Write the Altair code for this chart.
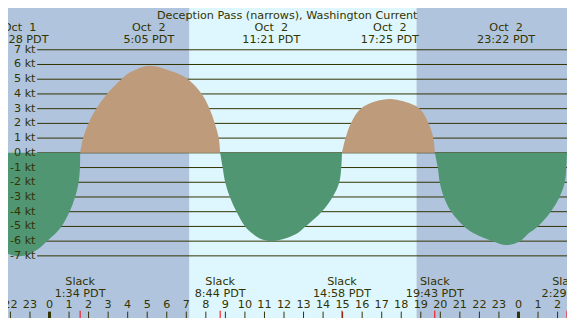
import altair as alt
import pandas as pd

W, H = 559, 310
SX, SY = W / 575, H / 326

HMIN, HMAX = -2.1244, 26.4826
KT_BOT, KT_TOP = -11.221, 9.838

FONT = "DejaVu Sans"
FS = 11.2
INK = "#333300"
NIGHT = "#B0C4DE"
DAY = "#DEF7FF"
FLOOD = "#BE9B7B"
EBB = "#509673"

# day / night background periods (hours from Oct 2 00:00 PDT)
bg_start = [HMIN, 7.164, 18.771]
bg_end = [7.164, 18.771, HMAX]
bg_kind = ["night", "day", "night"]

# current speed (hours, knots)
arc1_h = [-2.1244, -1.85, -1.533, -1.1, -0.6, -0.134, 0.25, 0.612, 1.025, 1.308, 1.493, 1.557, 1.567]
arc1_v = [-6.85, -6.97, -7.02, -6.9, -6.55, -6.0, -5.55, -5.0, -4.0, -3.0, -2.0, -1.0, 0.0]
arc2_h = [1.567, 1.72, 1.99, 2.39, 2.94, 3.68, 4.18, 5.083, 6.33, 7.08, 7.79, 8.19, 8.46, 8.66, 8.733]
arc2_v = [0.0, 1.0, 2.0, 3.0, 4.0, 5.0, 5.5, 5.92, 5.5, 5.0, 4.0, 3.0, 2.0, 1.0, 0.0]
arc3_h = [8.733, 8.86, 8.99, 9.23, 9.57, 10.01, 10.4, 10.81, 11.35, 11.97, 12.64, 13.1, 13.93, 14.49, 14.83, 14.93, 14.967]
arc3_v = [0.0, -1.0, -2.0, -3.0, -4.0, -5.0, -5.5, -5.85, -5.99, -5.85, -5.5, -5.0, -4.0, -3.0, -2.0, -1.0, 0.0]
arc4_h = [14.967, 15.15, 15.42, 15.92, 16.7, 17.417, 18.11, 18.94, 19.4, 19.64, 19.717]
arc4_v = [0.0, 1.0, 2.0, 3.0, 3.5, 3.66, 3.5, 3.0, 2.0, 1.0, 0.0]
arc5_h = [19.717, 19.87, 19.97, 20.18, 20.56, 21.22, 21.76, 22.67, 23.367, 24.08, 24.49, 24.99, 25.65, 26.1, 26.37, 26.45, 26.4826]
arc5_v = [0.0, -1.0, -2.0, -3.0, -4.0, -5.0, -5.5, -6.0, -6.27, -6.0, -5.5, -5.0, -4.0, -3.0, -2.0, -1.0, 0.0]
arc_kind = ["ebb", "flood", "ebb", "flood", "ebb"]

# maximum current events (top labels)
max_h = [-1.533, 5.083, 11.35, 17.417, 23.367]
max_date = ["Oct  1", "Oct  2", "Oct  2", "Oct  2", "Oct  2"]
max_time = ["22:28 PDT", "5:05 PDT", "11:21 PDT", "17:25 PDT", "23:22 PDT"]

# slack events (bottom labels)
slack_h = [1.567, 8.733, 14.967, 19.717, 26.4826]
slack_time = ["1:34 PDT", "8:44 PDT", "14:58 PDT", "19:43 PDT", "2:29 PDT"]

# hour ticks
hours = list(range(-2, 27))
hour_labels = [str(h % 24) for h in hours]

# speed grid
kt_levels = list(range(-7, 8))
kt_labels = [f"{k} kt" for k in kt_levels]

title_text = ["Deception Pass (narrows), Washington Current"]

xs = alt.Scale(domain=[HMIN, HMAX], nice=False, zero=False)
ys = alt.Scale(domain=[KT_BOT, KT_TOP], nice=False, zero=False)


def X(field, **kw):
    return alt.X(f"{field}:Q", scale=xs, axis=None, **kw)


def Y(field):
    return alt.Y(f"{field}:Q", scale=ys, axis=None)


nbsp = lambda s: s.replace("  ", "\u00a0\u00a0")

bg_df = pd.DataFrame({"h": bg_start, "h2": bg_end, "kind": bg_kind})
rows = []
for i, (hh, vv) in enumerate([(arc1_h, arc1_v), (arc2_h, arc2_v), (arc3_h, arc3_v),
                                (arc4_h, arc4_v), (arc5_h, arc5_v)]):
    for a, b in zip(hh, vv):
        rows.append({"h": a, "kt": b, "arc": i, "kind": arc_kind[i]})
cur_df = pd.DataFrame(rows)
max_df = pd.DataFrame({"h": max_h, "date": [nbsp(d) for d in max_date], "time": max_time})
slack_df = pd.DataFrame({"h": slack_h, "time": slack_time, "word": ["Slack"] * len(slack_h)})
hour_df = pd.DataFrame({"h": hours, "label": hour_labels})
kt_df = pd.DataFrame({"kt": kt_levels, "label": kt_labels})
title_df = pd.DataFrame({"t": title_text})

layers = []
for kind, col in [("night", NIGHT), ("day", DAY)]:
    layers.append(
        alt.Chart(bg_df).transform_filter(alt.datum.kind == kind)
        .mark_rect(color=col, strokeWidth=0)
        .encode(x=X("h"), x2="h2:Q", y=alt.value(0), y2=alt.value(H))
    )

layers.append(
    alt.Chart(kt_df).mark_rule(color=INK, strokeWidth=1)
    .encode(y=Y("kt"), x=alt.value(30 * SX), x2=alt.value(W))
)
for kind, col in [("flood", FLOOD), ("ebb", EBB)]:
    layers.append(
        alt.Chart(cur_df).transform_filter(alt.datum.kind == kind)
        .mark_area(color=col, interpolate="catmull-rom", opacity=1)
        .encode(x=X("h"), y=Y("kt"), y2=alt.datum(0), detail="arc:N")
    )
layers.append(
    alt.Chart(kt_df).mark_text(font=FONT, fontSize=FS, color=INK, align="right", baseline="middle")
    .encode(y=Y("kt"), x=alt.value(28.3 * SX), text="label:N")
)

txt = dict(font=FONT, fontSize=FS, color=INK, align="center", baseline="alphabetic")
layers.append(
    alt.Chart(title_df).mark_text(**txt)
    .encode(x=alt.value(287.2 * SX), y=alt.value(12 * SY), text="t:N")
)
layers.append(
    alt.Chart(max_df).mark_text(**txt).encode(x=X("h"), y=alt.value(24 * SY), text="date:N")
)
layers.append(
    alt.Chart(max_df).mark_text(**txt).encode(x=X("h"), y=alt.value(36.5 * SY), text="time:N")
)
layers.append(
    alt.Chart(slack_df).mark_text(**txt).encode(x=X("h"), y=alt.value(291 * SY), text="word:N")
)
layers.append(
    alt.Chart(slack_df).mark_text(**txt).encode(x=X("h"), y=alt.value(304 * SY), text="time:N")
)
layers.append(
    alt.Chart(hour_df).mark_text(**txt).encode(x=X("h"), y=alt.value(316 * SY), text="label:N")
)
layers.append(
    alt.Chart(hour_df).mark_rule(color=INK)
    .encode(x=X("h"), y=alt.value(319.3 * SY), y2=alt.value(H),
            strokeWidth=alt.condition("datum.h % 24 == 0", alt.value(3), alt.value(1)))
)
layers.append(
    alt.Chart(slack_df).mark_rule(color="#FF0000", strokeWidth=1)
    .encode(x=X("h"), y=alt.value(318.3 * SY), y2=alt.value(H))
)

chart = (
    alt.layer(*layers)
    .properties(width=W, height=H, padding=0, autosize=alt.AutoSizeParams(type="none"))
    .configure_view(strokeWidth=0)
)

chart.save("out.html", embed_options={"renderer": "svg", "actions": False})
